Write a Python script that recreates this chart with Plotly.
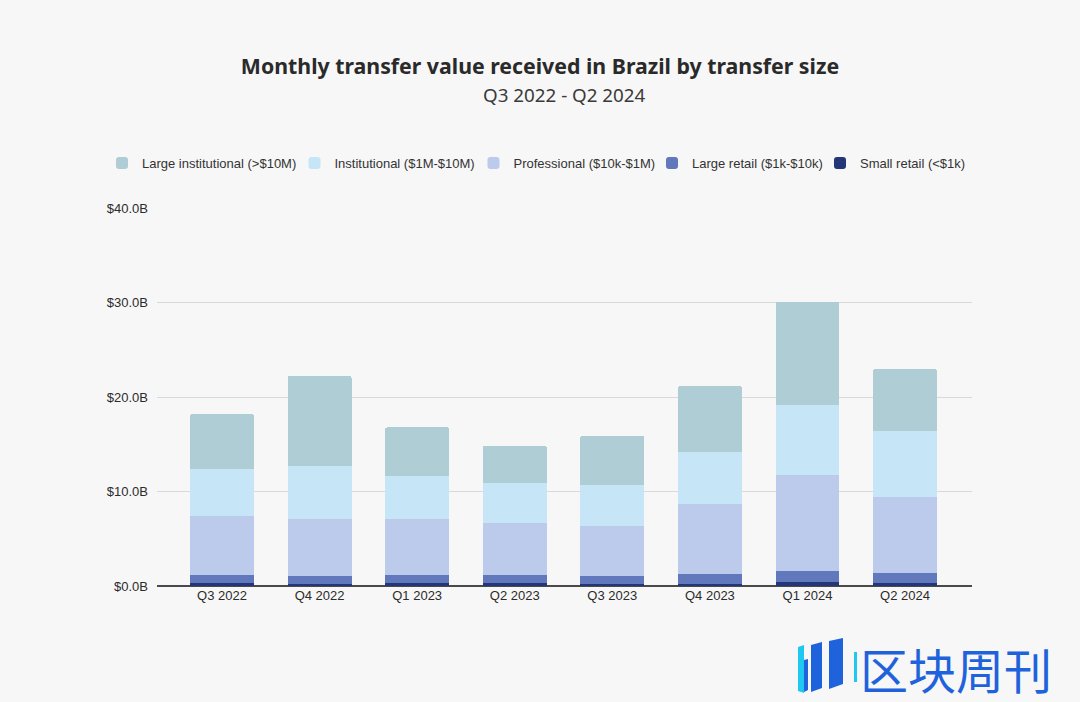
import plotly.graph_objects as go

quarters = ["Q3 2022", "Q4 2022", "Q1 2023", "Q2 2023", "Q3 2023", "Q4 2023", "Q1 2024", "Q2 2024"]

# values in billions USD, stacked bottom -> top
small_retail = [0.28, 0.25, 0.28, 0.28, 0.25, 0.25, 0.42, 0.30]
large_retail = [0.92, 0.81, 0.92, 0.92, 0.84, 1.05, 1.13, 1.11]
professional = [6.24, 6.06, 5.92, 5.47, 5.22, 7.41, 10.16, 7.97]
institutional = [4.94, 5.58, 4.55, 4.23, 4.34, 5.47, 7.41, 6.99]
large_institutional = [5.79, 9.52, 5.12, 3.95, 5.25, 6.98, 10.93, 6.59]

series_names = ["Small retail (<$1k)", "Large retail ($1k-$10k)", "Professional ($10k-$1M)",
                "Institutional ($1M-$10M)", "Large institutional (>$10M)"]
series_values = [small_retail, large_retail, professional, institutional, large_institutional]
series_colors = ["#233677", "#6278bd", "#bccaec", "#c6e5f6", "#aecdd4"]

y_ticks = [0, 10, 20, 30, 40]
y_tick_labels = ["$0.0B", "$10.0B", "$20.0B", "$30.0B", "$40.0B"]

W, H = 1080, 702
L, R, T, B = 157, 108, 208, 116
PW, PH = W - L - R, H - T - B


def px(x):
    return (x - L) / PW


def py(y):
    return (H - B - y) / PH


# legend text start positions (pixels), same order as series_names
legend_text_x = [860, 692, 513.5, 334.5, 142]

fig = go.Figure()
legend_layouts = {"legend": dict(visible=False)}
for i, (name, vals, col) in enumerate(zip(series_names, series_values, series_colors)):
    lid = f"legend{i + 2}"
    fig.add_trace(go.Bar(
        x=list(range(len(quarters))), y=vals, name=name,
        marker=dict(color=col, line=dict(width=0)),
        legend=lid, showlegend=True,
        hovertemplate="%{y:.2f}B<extra>" + name + "</extra>",
    ))
    legend_layouts[lid] = dict(
        orientation="h", x=px(legend_text_x[i] - 40), xanchor="left",
        y=py(163), yanchor="middle", font=dict(size=13, color="#333333"),
        itemwidth=30, bgcolor="rgba(0,0,0,0)", entrywidth=180,
    )

bg = "#f7f7f7"


def poly(pts, color):
    d = "M " + " L ".join(f"{px(x):.5f},{py(y):.5f}" for x, y in pts) + " Z"
    return dict(type="path", xref="paper", yref="paper", path=d,
                fillcolor=color, line=dict(width=0), layer="above")


logo = [
    poly([(798, 647), (804, 645), (804, 693), (798, 691)], "#1fc8f0"),
    poly([(804, 660), (808, 659), (808, 690), (804, 692)], "#1f63dc"),
    poly([(811, 645), (822, 642), (822, 688), (811, 692)], "#1f63dc"),
    poly([(829, 641), (843, 638), (843, 684), (829, 689)], "#1f63dc"),
    poly([(854, 652), (857, 652), (857, 682), (854, 682)], "#1fc8f0"),
]

fig.update_layout(
    barmode="stack",
    bargap=0.345,
    barcornerradius=2,
    width=W, height=H,
    paper_bgcolor=bg, plot_bgcolor=bg,
    margin=dict(l=L, r=R, t=T, b=B),
    font=dict(family="Liberation Sans, Arial, sans-serif", size=13, color="#2b2b2b"),
    title=dict(
        text="<b>Monthly transfer value received in Brazil by transfer size</b>",
        x=0.5, xanchor="center", y=1 - 67 / H, yanchor="middle",
        font=dict(family="Noto Sans, sans-serif", size=21.3, color="#2a2a2a"),
    ),
    xaxis=dict(
        tickmode="array", tickvals=list(range(len(quarters))), ticktext=quarters,
        range=[-0.666, 7.686], showgrid=False, zeroline=False,
        showline=False, ticks="", tickfont=dict(size=13, color="#2b2b2b"),
    ),
    yaxis=dict(
        range=[0, 40], tickmode="array", tickvals=y_ticks, ticktext=y_tick_labels,
        showgrid=True, gridcolor="#d9d9d9", gridwidth=1,
        zeroline=True, zerolinecolor="#4a4a4a", zerolinewidth=1.5,
        ticks="", ticklabelstandoff=8, tickfont=dict(size=13, color="#2b2b2b"),
    ),
    annotations=[
        dict(text="Q3 2022 - Q2 2024", xref="paper", yref="paper",
             x=0.5, y=py(95), xanchor="center", yanchor="middle",
             showarrow=False, font=dict(family="Noto Sans, sans-serif", size=18.8, color="#3a3a3a")),
        dict(text="区块周刊", xref="paper", yref="paper",
             x=px(858), y=py(668), xanchor="left", yanchor="middle",
             showarrow=False, font=dict(family="Noto Sans CJK SC", size=48, color="#1f63dc")),
    ],
    shapes=logo,
    **legend_layouts,
)

fig.write_html(
    "out.html",
    config={"displayModeBar": False},
    post_script="document.body.style.margin='0';document.body.style.background='#f7f7f7';",
)
